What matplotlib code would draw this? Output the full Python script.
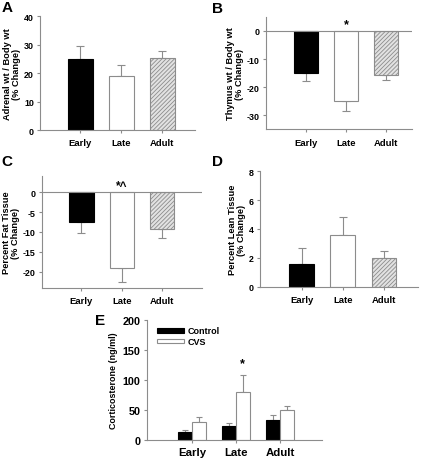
import numpy as np
import matplotlib
matplotlib.use('Agg')
import matplotlib.pyplot as plt

plt.rcParams['font.family'] = ['Liberation Sans', 'DejaVu Sans']
plt.rcParams['font.weight'] = 'bold'
plt.rcParams['axes.unicode_minus'] = False
plt.rcParams['hatch.color'] = '#a0a0a0'
plt.rcParams['hatch.linewidth'] = 0.6

groups = ['Early', 'Late', 'Adult']

adrenal = [25.0, 19.0, 25.3]
adrenal_err = [4.5, 3.7, 2.5]

thymus = [-15.0, -25.0, -15.8]
thymus_err = [3.0, 3.5, 1.8]

fat = [-7.6, -19.0, -9.3]
fat_err = [2.6, 3.5, 2.3]

lean = [1.6, 3.6, 2.0]
lean_err = [1.1, 1.2, 0.5]

cort_control = [14, 23, 34]
cort_control_err = [3, 6, 8]
cort_cvs = [30, 80, 50]
cort_cvs_err = [9, 28, 7]

GREY = '#8c8c8c'


def style(ax, ylim, yticks, xlim, xfs=6.8, yfs=6.4):
    for s in ['top', 'right']:
        ax.spines[s].set_visible(False)
    for s in ['left', 'bottom']:
        ax.spines[s].set_color(GREY)
        ax.spines[s].set_linewidth(0.8)
    ax.set_ylim(*ylim)
    ax.set_yticks(yticks)
    ax.set_xlim(*xlim)
    ax.set_xticks(range(len(groups)))
    ax.set_xticklabels(groups, fontsize=xfs, fontweight='bold')
    ax.tick_params(axis='y', labelsize=yfs, length=2.5, color=GREY, pad=2)
    ax.tick_params(axis='x', length=2, color=GREY, pad=4)
    for lbl in ax.get_yticklabels():
        lbl.set_fontweight('bold')


def one_side(vals, errs):
    lo = [e if v < 0 else 0 for v, e in zip(vals, errs)]
    hi = [e if v >= 0 else 0 for v, e in zip(vals, errs)]
    return [lo, hi]


def three_bars(ax, vals, errs):
    x = np.arange(len(groups))
    colors = ['black', 'white', '#e2e2e2']
    edges = ['black', GREY, GREY]
    hatches = [None, None, '////////']
    for i in range(3):
        ax.bar(x[i], vals[i], width=0.6, color=colors[i], edgecolor=edges[i],
               linewidth=0.8, hatch=hatches[i], zorder=2)
    ax.errorbar(x, vals, yerr=one_side(vals, errs), fmt='none', ecolor=GREY,
                elinewidth=0.8, capsize=3, capthick=0.8, zorder=1)


def ylab(ax, text):
    ax.set_ylabel(text, fontsize=6.7, fontweight='bold', labelpad=2, linespacing=1.0)


fig = plt.figure(figsize=(4.27, 4.60), dpi=100)

# A
axA = fig.add_axes([0.094, 0.715, 0.363, 0.248])
three_bars(axA, adrenal, adrenal_err)
style(axA, (0, 40), [0, 10, 20, 30, 40], (-0.98, 2.8))
ylab(axA, 'Adrenal wt / Body wt\n(% Change)')
fig.text(0.003, 0.997, 'A', fontsize=11, fontweight='bold', va='top')

# B
axB = fig.add_axes([0.623, 0.717, 0.342, 0.244])
three_bars(axB, thymus, thymus_err)
style(axB, (-35, 5), [0, -10, -20, -30], (-1.01, 2.64))
axB.axhline(0, color=GREY, lw=0.8, zorder=3)
ylab(axB, 'Thymus wt / Body wt\n(% Change)')
axB.text(1, 2.5, '*', ha='center', va='center', fontsize=9, fontweight='bold')
fig.text(0.497, 0.995, 'B', fontsize=11, fontweight='bold', va='top')

# C
axC = fig.add_axes([0.098, 0.372, 0.375, 0.243])
three_bars(axC, fat, fat_err)
style(axC, (-24, 4), [0, -5, -10, -15, -20], (-0.98, 2.98))
axC.axhline(0, color=GREY, lw=0.8, zorder=3)
ylab(axC, 'Percent Fat Tissue\n(% Change)')
axC.text(1, 1.6, '*^', ha='center', va='center', fontsize=8.5, fontweight='bold')
fig.text(0.003, 0.662, 'C', fontsize=11, fontweight='bold', va='top')

# D
axD = fig.add_axes([0.609, 0.374, 0.370, 0.252])
three_bars(axD, lean, lean_err)
style(axD, (0, 8), [0, 2, 4, 6, 8], (-1.01, 2.83))
ylab(axD, 'Percent Lean Tissue\n(% Change)')
fig.text(0.497, 0.662, 'D', fontsize=11, fontweight='bold', va='top')

# E
axE = fig.add_axes([0.344, 0.041, 0.410, 0.261])
x = np.arange(len(groups))
w = 0.31
axE.bar(x - w / 2, cort_control, width=w, color='black', edgecolor='black',
        linewidth=0.8, label='Control', zorder=2)
axE.bar(x + w / 2, cort_cvs, width=w, color='white', edgecolor=GREY,
        linewidth=0.8, label='CVS', zorder=2)
axE.errorbar(x - w / 2, cort_control, yerr=one_side(cort_control, cort_control_err),
             fmt='none', ecolor=GREY, elinewidth=0.8, capsize=2.5, capthick=0.8, zorder=1)
axE.errorbar(x + w / 2, cort_cvs, yerr=one_side(cort_cvs, cort_cvs_err),
             fmt='none', ecolor=GREY, elinewidth=0.8, capsize=2.5, capthick=0.8, zorder=1)
style(axE, (0, 200), [0, 50, 100, 150, 200], (-1.02, 2.95), xfs=8.2, yfs=7.8)
axE.tick_params(axis='x', pad=3)
axE.set_ylabel('Corticosterone (ng/ml)', fontsize=6.4, fontweight='bold', labelpad=3)
axE.text(1 + w / 2, 128, '*', ha='center', va='center', fontsize=9, fontweight='bold')
leg = axE.legend(loc='upper left', bbox_to_anchor=(0.02, 1.0), frameon=False,
                 fontsize=6.5, handlelength=3.0, handleheight=0.45, borderaxespad=0.3,
                 labelspacing=0.2, handletextpad=0.4)
for t in leg.get_texts():
    t.set_fontweight('bold')
fig.text(0.222, 0.318, 'E', fontsize=11, fontweight='bold', va='top')

fig.savefig('out.png', dpi=100)
